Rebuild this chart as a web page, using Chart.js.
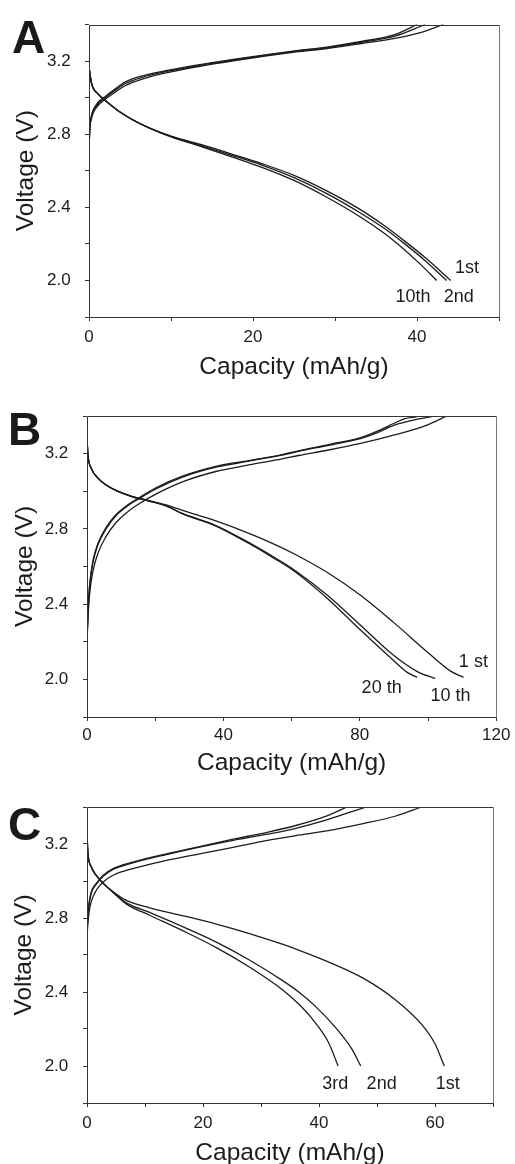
<!DOCTYPE html>
<html>
<head>
<meta charset="utf-8">
<script src="https://cdn.jsdelivr.net/npm/chart.js@4.4.1/dist/chart.umd.min.js"></script>
<style>
  html, body { margin: 0; padding: 0; background: #fff; overflow: hidden; }
  body { width: 515px; height: 1164px; position: relative; }
  canvas { position: absolute; left: 0; }
  .tag { position: absolute; font: bold 46px "Liberation Sans", Arial, sans-serif; line-height: 46px; color: #1a1a1a; }
</style>
</head>
<body>
<canvas id="chartA" width="515" height="390" style="top:0px"></canvas>
<canvas id="chartB" width="515" height="390" style="top:390px"></canvas>
<canvas id="chartC" width="515" height="390" style="top:780px"></canvas>
<div class="tag" style="left:12px; top:14px">A</div>
<div class="tag" style="left:8px; top:406px">B</div>
<div class="tag" style="left:8px; top:801px">C</div>
<script>
// capacity (mAh/g), voltage (V) pairs

// panel A
const A_CHARGE_1ST = [[0,2.69],[0.08,2.81],[0.3,2.885],[0.9,2.945],[2.1,2.995],[3.2,3.03],[4.4,3.065],[6.4,3.1],[9.7,3.138],[13.7,3.173],[17.8,3.203],[21.9,3.23],[25.3,3.25],[29.2,3.27],[33.2,3.296],[37.3,3.324],[40.4,3.355],[43.2,3.4]];
const A_CHARGE_2ND = [[0,2.69],[0.08,2.815],[0.3,2.895],[0.9,2.955],[2.1,3.003],[3.2,3.04],[4.4,3.076],[6.4,3.11],[9.7,3.145],[13.7,3.178],[17.8,3.207],[21.9,3.234],[25.3,3.254],[29.2,3.274],[33.2,3.302],[37.3,3.336],[41,3.4]];
const A_CHARGE_10TH = [[0,2.69],[0.08,2.82],[0.3,2.9],[0.9,2.962],[2.1,3.01],[3.2,3.048],[4.4,3.085],[6.4,3.118],[9.7,3.15],[13.7,3.182],[17.8,3.21],[21.9,3.237],[25.3,3.257],[29.2,3.278],[33.2,3.307],[37.3,3.345],[40,3.4]];
const A_DISCHARGE_1ST = [[0,3.17],[0.3,3.08],[1.1,3.02],[2.1,2.98],[3.5,2.93],[5.5,2.875],[7.5,2.832],[10,2.79],[13.5,2.745],[17.5,2.69],[21,2.64],[25,2.575],[29,2.49],[33,2.39],[36,2.3],[38.5,2.215],[41,2.125],[44.1,2.0]];
const A_DISCHARGE_2ND = [[0,3.17],[0.3,3.08],[1.1,3.02],[2.1,2.98],[3.5,2.93],[5.5,2.875],[7.5,2.831],[10,2.788],[13.5,2.74],[17.5,2.683],[21,2.632],[25,2.562],[29,2.475],[33,2.372],[36,2.285],[38.5,2.2],[41,2.108],[43.6,2.0]];
const A_DISCHARGE_10TH = [[0,3.17],[0.3,3.08],[1.1,3.02],[2.1,2.98],[3.5,2.93],[5.5,2.874],[7.5,2.83],[10,2.785],[13.5,2.735],[17.5,2.675],[21,2.62],[25,2.547],[29,2.455],[33,2.35],[36,2.258],[38.5,2.167],[40.5,2.085],[42.4,2.0]];
const A_LABELS = [["1st", 46.1, 2.069], ["2nd", 45.1, 1.91], ["10th", 39.5, 1.91]];

// panel B
const B_CHARGE_1ST = [[0,2.2],[0.3,2.33],[0.8,2.46],[1.8,2.58],[3.2,2.67],[5.6,2.76],[8.6,2.835],[11.5,2.885],[15.4,2.935],[20.2,2.985],[28,3.05],[37.8,3.105],[47.5,3.14],[57.2,3.172],[62,3.19],[70.5,3.218],[80.2,3.254],[89.9,3.298],[99.7,3.352],[105.5,3.4]];
const B_CHARGE_10TH = [[0,2.2],[0.3,2.36],[0.8,2.5],[1.8,2.625],[3.2,2.715],[5.6,2.8],[8.6,2.872],[11.5,2.917],[15.4,2.962],[20.2,3.012],[28,3.075],[37.8,3.128],[47.5,3.16],[57.2,3.192],[62,3.212],[70.5,3.243],[80.2,3.28],[85,3.31],[89.9,3.35],[95,3.375],[101.1,3.397]];
const B_CHARGE_20TH = [[0,2.2],[0.3,2.37],[0.8,2.51],[1.8,2.635],[3.2,2.722],[5.6,2.808],[8.6,2.878],[11.5,2.922],[15.4,2.967],[20.2,3.018],[28,3.08],[37.8,3.132],[47.5,3.163],[57.2,3.195],[62,3.215],[70.5,3.247],[80.2,3.285],[85,3.318],[89.9,3.36],[93,3.385],[96.7,3.395]];
const B_DISCHARGE_1ST = [[0,3.28],[0.3,3.19],[1.3,3.12],[3.2,3.07],[5.6,3.033],[8.6,3.003],[13.4,2.972],[18.3,2.95],[23.2,2.927],[28,2.898],[37.8,2.842],[47.5,2.776],[55,2.718],[60.7,2.668],[70.5,2.568],[80.2,2.447],[89.9,2.303],[99.7,2.147],[106.5,2.045],[110.4,2.011]];
const B_DISCHARGE_10TH = [[0,3.28],[0.3,3.19],[1.3,3.12],[3.2,3.07],[5.6,3.033],[8.6,3.003],[13.4,2.97],[18.3,2.948],[23.2,2.922],[28,2.882],[37.8,2.818],[47.5,2.727],[55,2.648],[60.7,2.583],[70.5,2.447],[80.2,2.288],[89.9,2.128],[97,2.04],[102.1,2.005]];
const B_DISCHARGE_20TH = [[0,3.28],[0.3,3.19],[1.3,3.12],[3.2,3.07],[5.6,3.033],[8.6,3.003],[13.4,2.97],[18.3,2.948],[23.2,2.922],[28,2.88],[37.8,2.815],[47.5,2.722],[55,2.642],[60.7,2.576],[70.5,2.43],[80.2,2.262],[89.9,2.1],[94,2.036],[96.8,2.011]];
const B_LABELS = [["1 st", 113.3, 2.09], ["10 th", 106.6, 1.91], ["20 th", 86.4, 1.952]];

// panel C
const C_CHARGE_1ST = [[0,2.684],[0.1,2.75],[0.35,2.83],[0.75,2.89],[1.6,2.95],[2.8,2.995],[4.5,3.031],[7.9,3.067],[13.7,3.111],[19.4,3.147],[25.2,3.182],[30.9,3.218],[36,3.245],[41.6,3.272],[47.6,3.31],[53.1,3.35],[57.7,3.4]];
const C_CHARGE_2ND = [[0,2.684],[0.1,2.78],[0.35,2.87],[0.75,2.935],[1.6,2.982],[2.8,3.025],[4.5,3.062],[7.9,3.098],[13.7,3.143],[19.4,3.183],[25.2,3.22],[30.9,3.252],[36,3.285],[41.6,3.333],[45,3.368],[48.2,3.4]];
const C_CHARGE_3RD = [[0,2.684],[0.1,2.79],[0.35,2.88],[0.75,2.942],[1.6,2.987],[2.8,3.031],[4.5,3.067],[7.9,3.102],[13.7,3.147],[19.4,3.186],[25.2,3.226],[30.9,3.262],[36,3.3],[41.6,3.355],[44.8,3.4]];
const C_DISCHARGE_1ST = [[0,3.25],[0.17,3.147],[0.75,3.076],[1.6,3.03],[2.8,2.987],[4.5,2.942],[6.8,2.895],[10.8,2.855],[16.6,2.812],[22.3,2.767],[28,2.716],[33.8,2.657],[36.7,2.624],[41.6,2.563],[47.6,2.475],[53.1,2.36],[57.7,2.225],[60,2.12],[61.6,2.0]];
const C_DISCHARGE_2ND = [[0,3.25],[0.17,3.147],[0.75,3.076],[1.6,3.03],[2.8,2.987],[4.5,2.94],[6.8,2.882],[10.8,2.83],[16.6,2.752],[22.3,2.67],[28,2.573],[33.8,2.46],[36.5,2.4],[39.3,2.325],[42.8,2.21],[45.6,2.095],[47.2,2.0]];
const C_DISCHARGE_3RD = [[0,3.25],[0.17,3.147],[0.75,3.076],[1.6,3.03],[2.8,2.987],[4.5,2.938],[6.8,2.875],[10.8,2.815],[16.6,2.73],[22.3,2.64],[28,2.535],[33.8,2.41],[36.5,2.335],[38.7,2.26],[41.6,2.13],[43.3,2.0]];
const C_LABELS = [["3rd", 42.8, 1.904], ["2nd", 50.8, 1.904], ["1st", 62.2, 1.904]];

const Y_MIN = 1.8;
const Y_MAX = 3.4;
const Y_STEP = 0.2;

const FONT = '"Liberation Sans", Arial, Helvetica, sans-serif';
const INK = "#1c1c1c";

Chart.defaults.font.family = FONT;
Chart.defaults.color = INK;

// box around the plot area
const framePlugin = {
  id: "frame",
  afterDatasetsDraw(chart) {
    const { ctx, chartArea } = chart;
    const l = Math.round(chartArea.left) + 0.5;
    const t = Math.round(chartArea.top) + 0.5;
    const r = Math.round(chartArea.right) + 0.5;
    const b = Math.round(chartArea.bottom) + 0.5;
    ctx.save();
    ctx.strokeStyle = "#333";
    ctx.lineWidth = 1;
    ctx.beginPath();
    ctx.moveTo(r, t);
    ctx.lineTo(l, t);
    ctx.lineTo(l, b);
    ctx.lineTo(r, b);
    ctx.stroke();
    ctx.strokeStyle = "#777";
    ctx.beginPath();
    ctx.moveTo(r, t);
    ctx.lineTo(r, b);
    ctx.stroke();
    ctx.restore();
  },
};

// cycle labels placed in data coordinates
const cycleLabelPlugin = {
  id: "cycleLabels",
  afterDatasetsDraw(chart, args, opts) {
    const { ctx, scales } = chart;
    ctx.save();
    ctx.fillStyle = INK;
    ctx.font = "18px " + FONT;
    ctx.textAlign = "center";
    ctx.textBaseline = "middle";
    (opts.items || []).forEach(([text, x, y]) => {
      ctx.fillText(text, scales.x.getPixelForValue(x), scales.y.getPixelForValue(y));
    });
    ctx.restore();
  },
};

function toPoints(pairs) {
  return pairs.map(([x, y]) => ({ x, y }));
}

function makePanel(p) {
  const canvas = document.getElementById(p.id);
  if (!canvas) return;

  new Chart(canvas.getContext("2d"), {
    type: "line",
    data: {
      datasets: p.series.map((s) => ({
        data: toPoints(s),
        borderColor: INK,
        borderWidth: 1.3,
        pointRadius: 0,
        fill: false,
        cubicInterpolationMode: "monotone",
      })),
    },
    options: {
      responsive: false,
      animation: false,
      events: [],
      layout: { padding: p.padding },
      plugins: {
        legend: { display: false },
        tooltip: { enabled: false },
        cycleLabels: { items: p.labels },
      },
      scales: {
        x: {
          type: "linear",
          min: 0,
          max: p.xMax,
          afterFit: (scale) => { scale.height = p.xAxisHeight; },
          border: { display: false },
          grid: { drawOnChartArea: false, drawTicks: true, tickLength: 4, tickColor: "#333" },
          ticks: {
            stepSize: p.xStep,
            autoSkip: false,
            maxRotation: 0,
            padding: p.xTickPad,
            color: INK,
            font: { size: 17 },
            callback: (v) => (v % p.xLabelEvery === 0 ? String(v) : ""),
          },
          title: {
            display: true,
            text: "Capacity (mAh/g)",
            color: INK,
            font: { size: 24.5 },
            padding: 0,
          },
        },
        y: {
          min: Y_MIN,
          max: Y_MAX,
          afterFit: (scale) => { scale.width = p.yAxisWidth; },
          border: { display: false },
          grid: { drawOnChartArea: false, drawTicks: true, tickLength: 4, tickColor: "#333" },
          ticks: {
            stepSize: Y_STEP,
            autoSkip: false,
            padding: p.yTickPad,
            color: INK,
            font: { size: 17 },
            callback: (v) => (Math.round(v * 10) % 4 === 0 ? v.toFixed(1) : ""),
          },
          title: {
            display: true,
            text: "Voltage (V)",
            color: INK,
            font: { size: 24.5 },
            padding: { top: p.yTitlePad, bottom: 0 },
          },
        },
      },
    },
    plugins: [framePlugin, cycleLabelPlugin],
  });
}

makePanel({
  id: "chartA",
  xMax: 50, xStep: 10, xLabelEvery: 20,
  series: [A_CHARGE_1ST, A_CHARGE_2ND, A_CHARGE_10TH, A_DISCHARGE_1ST, A_DISCHARGE_2ND, A_DISCHARGE_10TH],
  labels: A_LABELS,
  padding: { left: 0, top: 17, right: 16, bottom: 7.6 },
  yAxisWidth: 89, xAxisHeight: 65.4,
  xTickPad: 6.6, yTickPad: 14.3, yTitlePad: 11.5,
});

makePanel({
  id: "chartB",
  xMax: 120, xStep: 20, xLabelEvery: 40,
  series: [B_CHARGE_1ST, B_CHARGE_10TH, B_CHARGE_20TH, B_DISCHARGE_1ST, B_DISCHARGE_10TH, B_DISCHARGE_20TH],
  labels: B_LABELS,
  padding: { left: 0, top: 26, right: 17, bottom: 2.1 },
  yAxisWidth: 87, xAxisHeight: 60.9,
  xTickPad: 4.6, yTickPad: 14.7, yTitlePad: 10.7,
});

makePanel({
  id: "chartC",
  xMax: 70, xStep: 10, xLabelEvery: 20,
  series: [C_CHARGE_1ST, C_CHARGE_2ND, C_CHARGE_3RD, C_DISCHARGE_1ST, C_DISCHARGE_2ND, C_DISCHARGE_3RD],
  labels: C_LABELS,
  padding: { left: 0, top: 27, right: 22, bottom: 1.6 },
  yAxisWidth: 87, xAxisHeight: 65.4,
  xTickPad: 5.9, yTickPad: 14.7, yTitlePad: 9.3,
});
</script>
</body>
</html>
